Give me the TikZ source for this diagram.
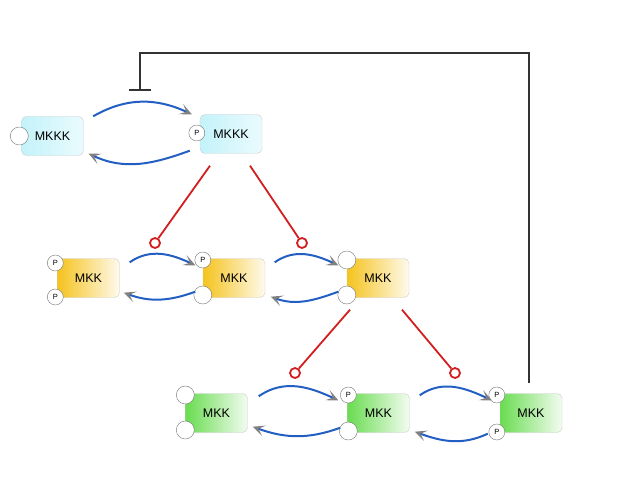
\documentclass[tikz,border=0pt]{standalone}
\usepackage{fontspec}
\setmainfont{Liberation Sans}
\usetikzlibrary{arrows.meta}
\definecolor{fluxblue}{RGB}{35,95,195}
\definecolor{catred}{RGB}{210,30,30}
\definecolor{kkkcyan}{RGB}{195,243,250}
\definecolor{kkgold}{RGB}{245,195,30}
\definecolor{kgreen}{RGB}{105,220,80}
\tikzset{
  kinase/.style={draw=black!20, rounded corners=5pt, minimum width=62pt,
    minimum height=39pt, inner sep=0pt, font=\fontsize{12.5}{14}\selectfont},
  mkkk/.style={kinase, left color=kkkcyan, right color=kkkcyan!35},
  mkk/.style={kinase, left color=kkgold, right color=kkgold!8},
  mk/.style={kinase, left color=kgreen, right color=kgreen!8},
  site/.style={circle, draw=black!55, fill=white, minimum size=18pt, inner sep=0pt},
  psite/.style={site, minimum size=16pt, font=\fontsize{7.5}{8}\selectfont},
  flux/.style={draw=fluxblue, line width=2pt,
    -{Stealth[gray, length=12pt, width=11pt, inset=6pt]}},
  catal/.style={draw=catred, line width=1.8pt},
  knob/.style={circle, draw=catred, line width=1.8pt, fill=white,
    minimum size=10pt, inner sep=0pt},
  inhib/.style={draw=black!80, line width=1.6pt, -{Bar[width=22pt]}},
}
\begin{document}
\begin{tikzpicture}[x=1pt, y=1pt]
  \useasboundingbox (0,0) rectangle (620,480);
  \path
    (52.5,344) node[mkkk] (kkk1){MKKK}
    (231,346) node[mkkk] (kkk2){MKKK}
    (88.5,202) node[mkk] (kk1){MKK}
    (234,202) node[mkk] (kk2){MKK}
    (378,202) node[mkk] (kk3){MKK}
    (216.5,67) node[mk] (k1){MKK}
    (378.5,67) node[mk] (k2){MKK}
    (531,67) node[mk] (k3){MKK};
  % phosphorylation sites
  \node[site] (kkk1a) at ([xshift=-2pt]kkk1.west) {};
  \node[psite] (kkk2a) at ([xshift=-3pt,yshift=1pt]kkk2.west) {P};
  \node[psite] (kk1a) at ([xshift=-2pt,yshift=15pt]kk1.west) {P};
  \node[psite] (kk1b) at ([xshift=-2pt,yshift=-19pt]kk1.west) {P};
  \node[psite] (kk2a) at ([xshift=0pt,yshift=18pt]kk2.west) {P};
  \node[site] (kk2b) at ([xshift=0pt,yshift=-17pt]kk2.west) {};
  \node[site] (kk3a) at ([xshift=0pt,yshift=18pt]kk3.west) {};
  \node[site] (kk3b) at ([xshift=0pt,yshift=-17pt]kk3.west) {};
  \node[site] (k1a) at ([xshift=0pt,yshift=18pt]k1.west) {};
  \node[site] (k1b) at ([xshift=0pt,yshift=-17pt]k1.west) {};
  \node[psite] (k2a) at ([xshift=1pt,yshift=18pt]k2.west) {P};
  \node[site] (k2b) at ([xshift=1pt,yshift=-18pt]k2.west) {};
  \node[psite] (k3a) at ([xshift=-3pt,yshift=18pt]k3.west) {P};
  \node[psite] (k3b) at ([xshift=-3pt,yshift=-19pt]k3.west) {P};
  % catalysis knobs
  \path
    (155,237) node[knob] (cat1){}
    (302,237) node[knob] (cat2){}
    (295,107) node[knob] (cat3){}
    (455,107) node[knob] (cat4){};
  \coordinate (loop) at (140,427);
  \coordinate (block) at (140,389);
  \begin{scope}[flux]
    \draw ([shift={(9.5,0)}]kkk1.north east) to[out=30,in=155] ([shift={(-8,0)}]kkk2.north west);
    \draw ([shift={(-10,3)}]kkk2.south west) to[out=200,in=-25] ([shift={(5,2)}]kkk1.south east);
    \draw ([shift={(10,-4)}]kk1.north east) to[out=35,in=155] ([shift={(-7.5,-7)}]kk2.north west);
    \draw ([shift={(-7.5,6)}]kk2.south west) to[out=200,in=-20] ([shift={(4,5)}]kk1.south east);
    \draw ([shift={(9.5,-4)}]kk2.north east) to[out=35,in=155] ([shift={(-8.5,-7)}]kk3.north west);
    \draw ([shift={(-8.5,6)}]kk3.south west) to[out=200,in=-20] ([shift={(5.5,1)}]kk2.south east);
    \draw ([shift={(11,-3)}]k1.north east) to[out=35,in=155] ([shift={(-9,-7)}]k2.north west);
    \draw ([shift={(-7,5)}]k2.south west) to[out=200,in=-20] ([shift={(5,6)}]k1.south east);
    \draw ([shift={(10,-2)}]k2.north east) to[out=35,in=155] ([shift={(-8,-7)}]k3.north west);
    \draw ([shift={(-12,-1)}]k3.south west) to[out=205,in=-20] ([shift={(5,1)}]k2.south east);
  \end{scope}
  \begin{scope}[catal]
    \draw ([shift={(-21,-12)}]kkk2.south) -- (cat1);
    \draw ([shift={(19,-12)}]kkk2.south) -- (cat2);
    \draw ([shift={(-28,-12)}]kk3.south) -- (cat3);
    \draw ([shift={(24,-12)}]kk3.south) -- (cat4);
  \end{scope}
  \draw[inhib] ([shift={(-2,10)}]k3.north) |- (loop) -- (block);
\end{tikzpicture}
\end{document}
